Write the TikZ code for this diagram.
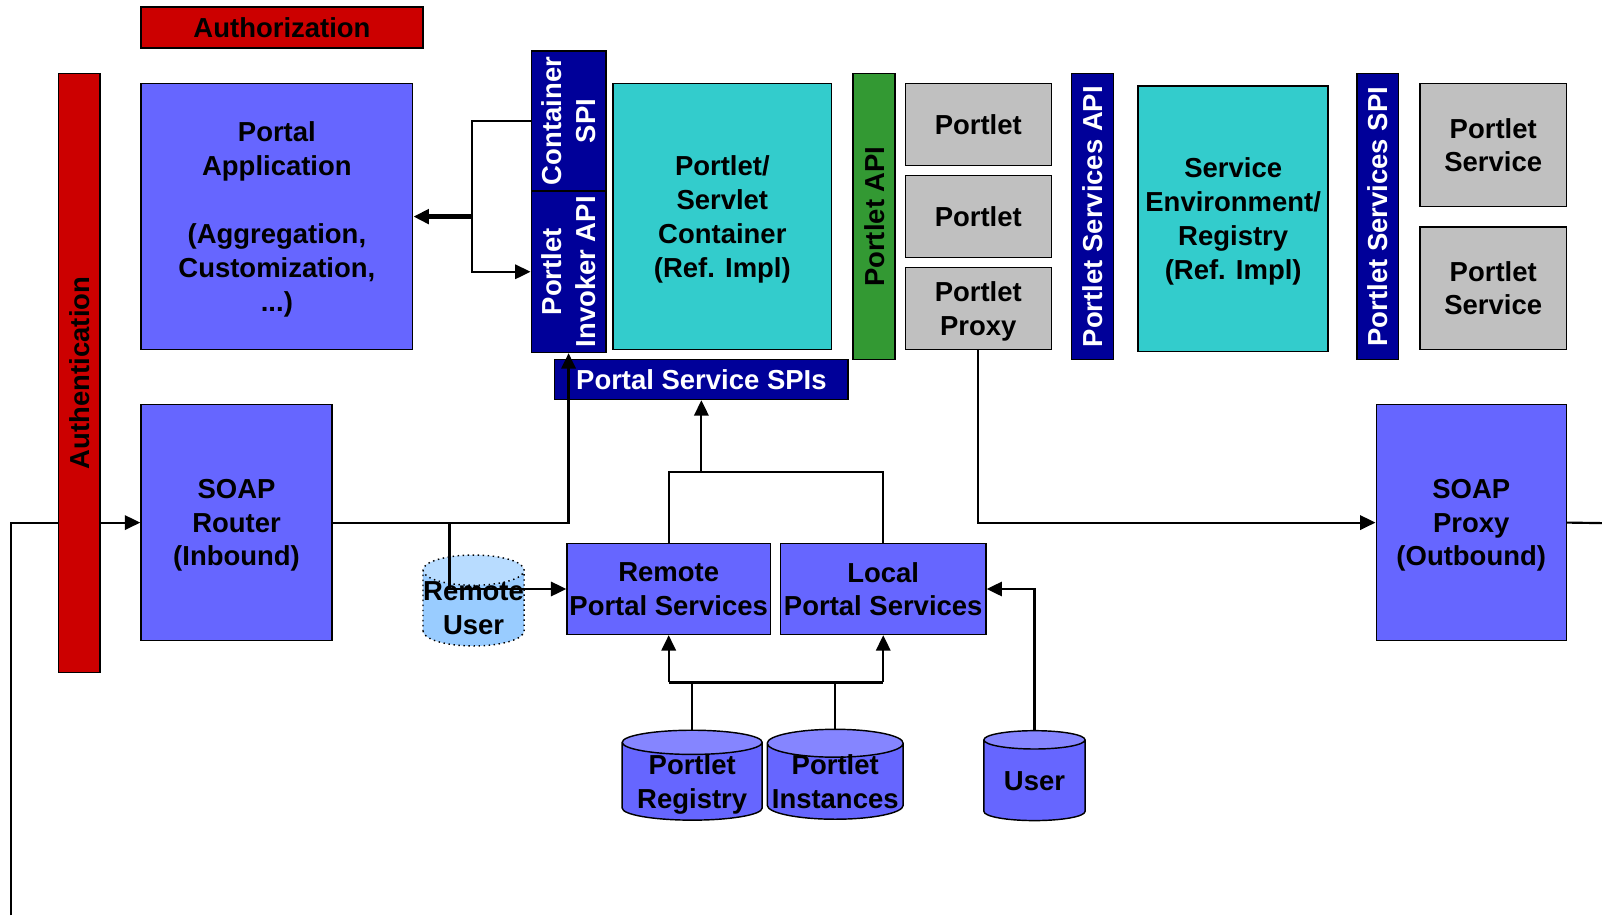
\documentclass[tikz,border=0pt]{standalone}
\usepackage{fontspec}
\setmainfont{Liberation Sans}
\usepackage{tikz}
\usetikzlibrary{shapes.geometric, calc, arrows.meta, backgrounds, positioning}

\definecolor{navy}{HTML}{000099}
\definecolor{boxblue}{HTML}{6666FF}
\definecolor{boxtop}{HTML}{8585FF}
\definecolor{implteal}{HTML}{33CCCC}
\definecolor{pletgray}{HTML}{C0C0C0}
\definecolor{apigreen}{HTML}{339933}
\definecolor{secred}{HTML}{CC0000}
\definecolor{remoteblue}{HTML}{99CCFF}
\definecolor{remotetop}{HTML}{B8DCFF}

\tikzset{
  box/.style={draw, line width=0.8pt, align=center, inner sep=1pt, text depth=0pt},
  block/.style={box, fill=boxblue},
  impl/.style={box, fill=implteal},
  plet/.style={box, fill=pletgray},
  secbar/.style={box, fill=secred},
  apibar/.style={box, fill=navy, text=white},
  greenbar/.style={box, fill=apigreen},
  store/.style={cylinder, shape border rotate=90, shape aspect=0.22, draw,
    line width=0.8pt, cylinder uses custom fill, cylinder body fill=boxblue,
    cylinder end fill=boxtop, align=center, inner xsep=0pt, inner ysep=-2mm,
    text depth=0pt},
  conn/.style={line width=1.2pt}
}

\begin{document}
\begin{tikzpicture}[x=0.2mm, y=-0.2mm, >={Triangle[length=3mm, width=2.8mm]},
    font=\fontsize{15.3}{18.8}\selectfont\bfseries]

    \useasboundingbox (0,0) rectangle (1568,896);

    % security bars
    \node[secbar, minimum width=55.2mm, minimum height=8mm] (authz) at (276,27) {Authorization};
    \node[secbar, rotate=90, minimum width=117.2mm, minimum height=8.2mm] (authn) at (77.5,365) {Authentication};

    % portal side
    \node[block, minimum width=53.2mm, minimum height=52mm] (app) at (271,212)
        {Portal\\Application\\[19pt](Aggregation,\\Customization,\\...)};
    \node[apibar, rotate=90, minimum width=27.4mm, minimum height=14.6mm] (cspi) at (556.5,118.5) {Container\\SPI};
    \node[apibar, rotate=90, minimum width=31.6mm, minimum height=14.6mm] (invoker) at (556.5,266) {Portlet\\Invoker API};
    \node[impl, minimum width=42.8mm, minimum height=52mm] (container) at (707,212)
        {Portlet/\\Servlet\\Container\\(Ref. Impl)};
    \node[apibar, minimum width=57.4mm, minimum height=7.8mm] (spis) at (686.5,371.5) {Portal Service SPIs};

    % portlets
    \node[greenbar, rotate=90, minimum width=56mm, minimum height=8.2mm] (papi) at (855.5,212) {Portlet API};
    \node[plet, minimum width=28.6mm, minimum height=16mm] (portlet1) at (957.5,122) {Portlet};
    \node[plet, minimum width=28.6mm, minimum height=16mm] (portlet2) at (957.5,212) {Portlet};
    \node[plet, minimum width=28.6mm, minimum height=16mm] (proxy) at (957.5,302) {Portlet\\Proxy};

    % services
    \node[apibar, rotate=90, minimum width=56mm, minimum height=8.2mm] (psapi) at (1069.5,212) {Portlet Services API};
    \node[impl, minimum width=37.2mm, minimum height=52mm] (env) at (1207,214)
        {Service\\Environment/\\Registry\\(Ref. Impl)};
    \node[apibar, rotate=90, minimum width=56mm, minimum height=8.2mm] (psspi) at (1348.5,212) {Portlet Services SPI};
    \node[plet, minimum width=28.6mm, minimum height=24mm] (service1) at (1461.5,142) {Portlet\\Service};
    \node[plet, minimum width=28.6mm, minimum height=24mm] (service2) at (1461.5,282) {Portlet\\Service};

    % soap
    \node[block, minimum width=37.4mm, minimum height=46.2mm] (router) at (231.5,511.5) {SOAP\\Router\\(Inbound)};
    \node[block, minimum width=37.2mm, minimum height=46.2mm] (soapproxy) at (1440,511.5) {SOAP\\Proxy\\(Outbound)};

    % portal services and stores
    \node[store, dotted, cylinder body fill=remoteblue, cylinder end fill=remotetop, shape aspect=0.3,
        minimum width=19.8mm, minimum height=17.8mm] (ruser) at (463.5,595.5) {Remote\\User};
    \node[block, minimum width=39.8mm, minimum height=17.8mm] (rps) at (654.5,576.5) {Remote\\Portal Services};
    \node[block, minimum width=40.2mm, minimum height=17.8mm] (lps) at (864.5,576.5) {Local\\Portal Services};
    \node[store, minimum width=27.4mm, minimum height=17.6mm] (registry) at (677.5,765) {Portlet\\Registry};
    \node[store, minimum width=26.6mm, minimum height=17.6mm] (instances) at (817.5,765) {Portlet\\Instances};
    \node[store, shape aspect=0.3, minimum width=19.8mm, minimum height=17.6mm] (user) at (1012.5,764) {User};

    % connectors
    \coordinate (entry) at (11,896);
    \begin{scope}[on background layer]
    \draw[conn, ->] (entry) |- (router.west);
    \end{scope}

    \coordinate (ajoin) at (462,212);
    \draw[conn, ->] (cspi.north) -| (ajoin) |- (invoker.north);
    \draw[->, line width=2.4pt] (ajoin) -- (app.east);

    \coordinate (rbranch) at (440,512);
    \draw[conn, ->] (router.east) -| (invoker.west);
    \draw[conn, ->] (rbranch) |- (rps.west);

    \coordinate (sbus) at (686.5,462);
    \draw[conn] (rps.north) |- (sbus) -| (lps.north);
    \draw[conn, ->] (sbus) -- (spis.south);

    \coordinate (dl) at (654.5,668);
    \coordinate (dr) at (864.5,668);
    \draw[conn] (dl) -- (dr);
    \draw[conn, ->] (dl) -- (rps.south);
    \draw[conn, ->] (dr) -- (lps.south);
    \draw[conn] (registry.north) -- (registry.north |- dl);
    \draw[conn] (instances.north) -- (instances.north |- dl);
    \draw[conn, ->] (user.north) |- (lps.east);

    \coordinate (exit) at (1568,512);
    \draw[conn, ->] (proxy.south) |- (soapproxy.west);
    \draw[conn] (soapproxy.east) -- (exit);

\end{tikzpicture}
\end{document}
